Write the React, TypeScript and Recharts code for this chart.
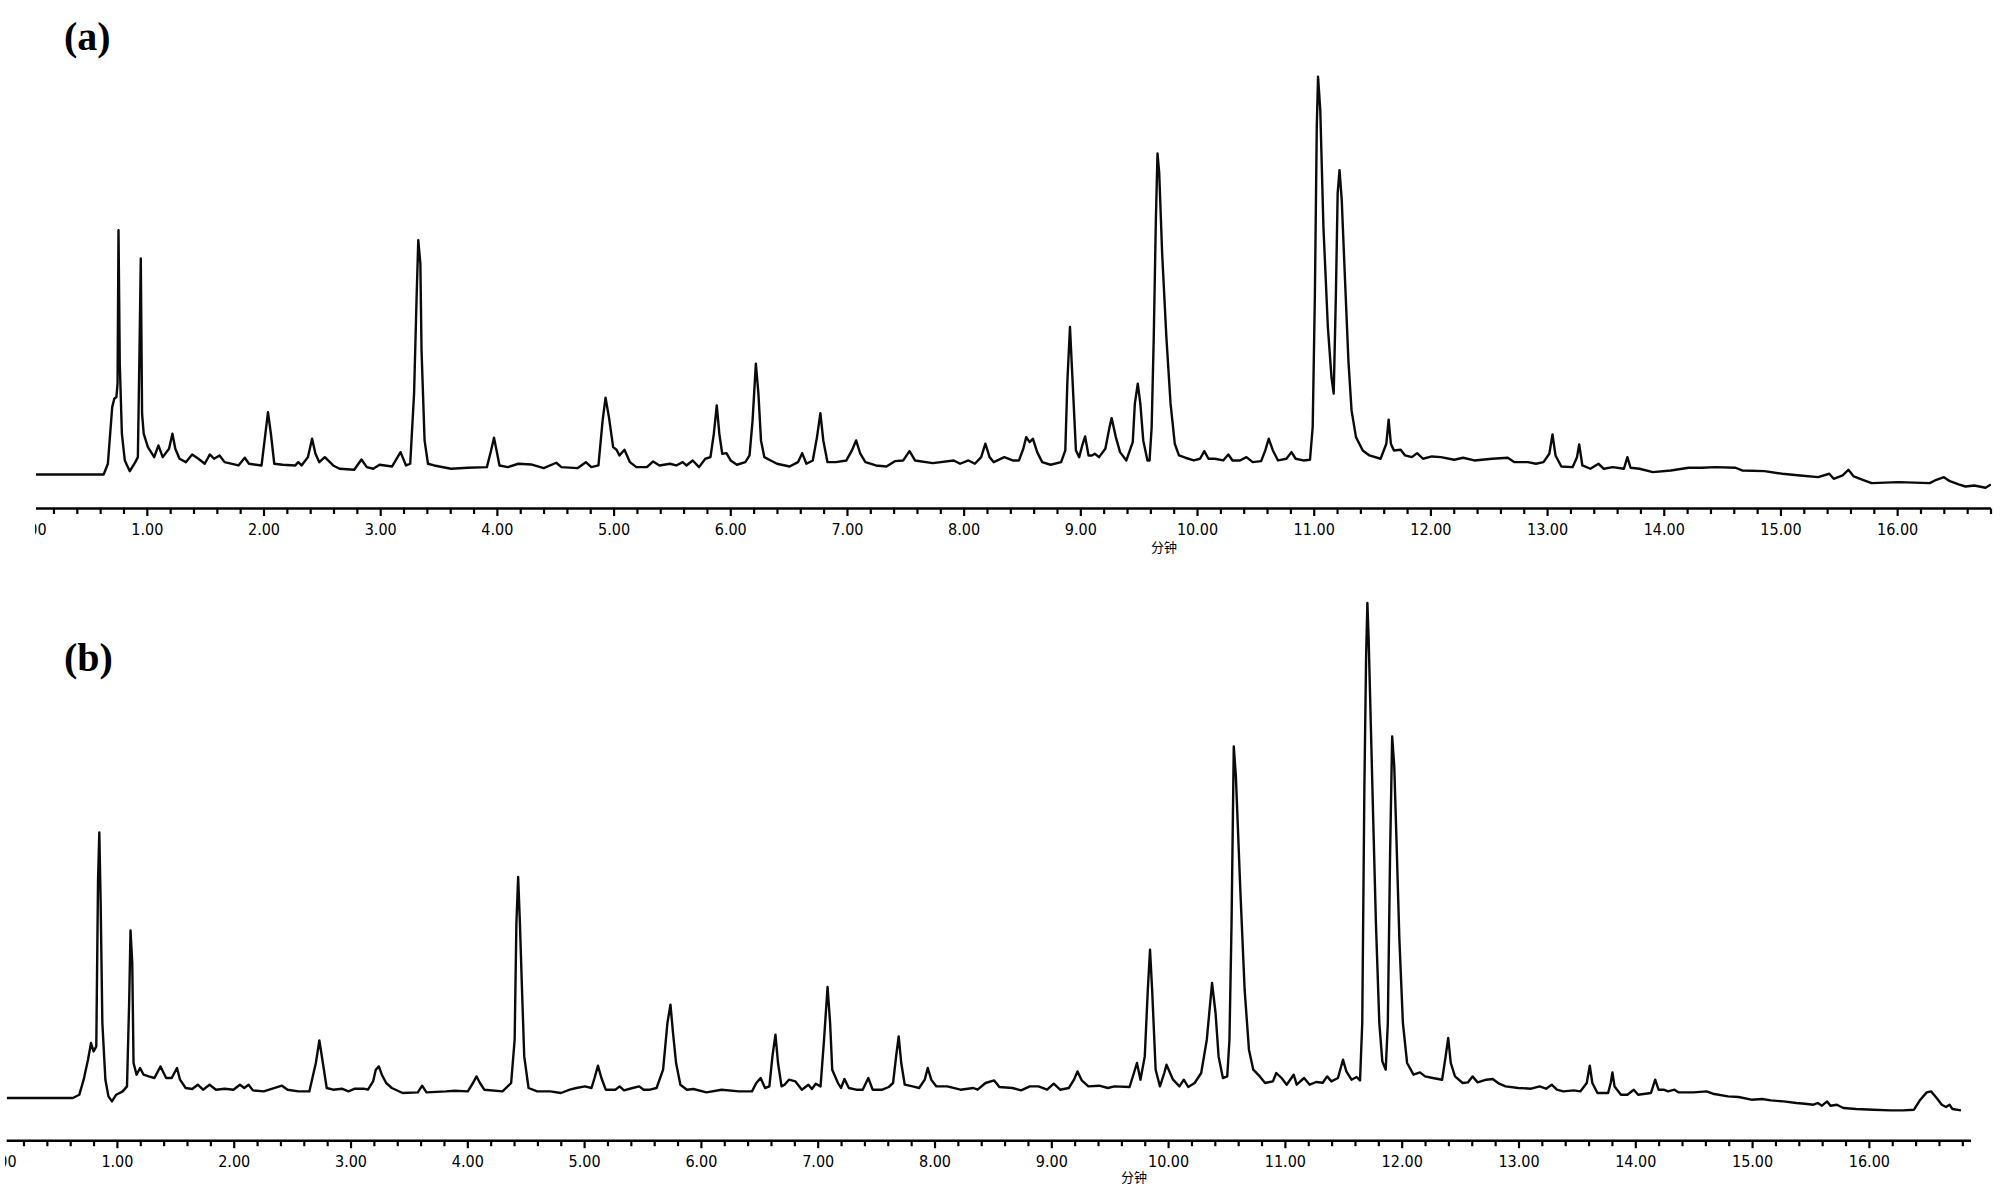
import React from "react";
import { LineChart, Line, XAxis, YAxis } from "recharts";

// retention time axis (minutes)
const minuteLabels = [
  "0.00", "1.00", "2.00", "3.00", "4.00", "5.00", "6.00", "7.00", "8.00",
  "9.00", "10.00", "11.00", "12.00", "13.00", "14.00", "15.00", "16.00",
];
const minorOffsets = [0.2, 0.4, 0.6, 0.8];
const axisTitle = "分钟";

// chromatogram (a): [time (min), signal]
const traceA: [number, number][] = [
  [0.046, -1], [0.626, -1], [0.662, 9.7], [0.699, 66.3], [0.717, 74.7], [0.735, 76.3], [0.745, 89.7],
  [0.753, 243], [0.764, 109.7], [0.782, 39.7], [0.807, 13], [0.85, 2.3], [0.897, 11.3], [0.919, 16.3],
  [0.933, 123], [0.944, 214.7], [0.955, 59.7], [0.969, 39.7], [1.005, 26.3], [1.059, 16.3], [1.095, 28],
  [1.132, 16.3], [1.186, 24.7], [1.215, 39.7], [1.24, 24.7], [1.276, 14.7], [1.33, 11.3], [1.384, 19],
  [1.438, 14.7], [1.492, 9.7], [1.536, 19], [1.572, 14.7], [1.619, 18], [1.662, 11.3], [1.781, 8],
  [1.835, 15.7], [1.871, 9.7], [1.979, 8], [2.005, 33], [2.034, 61.3], [2.059, 39.7], [2.088, 9.7],
  [2.16, 8.7], [2.268, 8], [2.293, 11.3], [2.322, 8], [2.376, 16.3], [2.412, 34.7], [2.441, 19.7],
  [2.474, 11.3], [2.521, 16.3], [2.593, 8], [2.647, 4.7], [2.773, 3.7], [2.835, 14], [2.881, 6.3],
  [2.936, 4.7], [2.99, 8.7], [3.098, 7], [3.17, 21.3], [3.217, 8], [3.253, 9.7], [3.286, 79.7],
  [3.307, 173], [3.322, 233], [3.34, 209.7], [3.35, 123], [3.376, 33], [3.405, 9.7], [3.459, 8],
  [3.603, 4.7], [3.747, 5.7], [3.91, 6.3], [3.946, 23], [3.971, 35.7], [3.993, 23], [4.018, 8],
  [4.09, 6.3], [4.18, 9.7], [4.289, 9], [4.397, 5.3], [4.505, 10.7], [4.548, 6.3], [4.686, 5.3],
  [4.758, 11.3], [4.805, 6.3], [4.866, 8], [4.902, 53], [4.927, 75.7], [4.956, 56.3], [4.992, 26.3],
  [5.021, 23.7], [5.046, 18], [5.089, 23.7], [5.136, 11.3], [5.191, 6.3], [5.281, 6.3], [5.335, 12],
  [5.389, 8], [5.479, 9.7], [5.533, 8], [5.588, 11.3], [5.62, 8], [5.674, 13], [5.728, 6.3],
  [5.782, 14.7], [5.826, 16.3], [5.855, 39.7], [5.88, 68], [5.902, 39.7], [5.927, 19.7], [5.963, 20.3],
  [5.999, 13], [6.053, 8.7], [6.125, 11.3], [6.161, 18], [6.187, 53], [6.215, 109.7], [6.237, 79.7],
  [6.259, 33], [6.288, 16.3], [6.342, 13], [6.396, 9.7], [6.504, 7], [6.576, 11.3], [6.612, 20.3],
  [6.648, 9.7], [6.703, 13], [6.739, 36.3], [6.768, 60.3], [6.793, 33], [6.829, 11.3], [6.901, 11.3],
  [6.991, 13], [7.038, 23], [7.074, 33], [7.11, 19.7], [7.154, 11.3], [7.244, 8], [7.334, 7],
  [7.406, 12.3], [7.478, 13], [7.532, 22.3], [7.579, 13], [7.731, 10.3], [7.911, 13], [7.965, 9.7],
  [8.037, 13], [8.092, 9.7], [8.146, 16.3], [8.182, 29.7], [8.218, 16.3], [8.254, 11.3], [8.344, 16.3],
  [8.416, 13], [8.47, 13], [8.507, 24.7], [8.532, 36.3], [8.561, 31.3], [8.589, 34.7], [8.626, 21.3],
  [8.669, 11.3], [8.741, 8.7], [8.831, 11.3], [8.867, 23], [8.885, 93], [8.907, 146.3], [8.929, 93],
  [8.958, 23], [8.986, 16.3], [9.012, 28], [9.037, 37], [9.066, 18], [9.095, 18], [9.12, 19.7],
  [9.156, 16.3], [9.21, 24.7], [9.246, 46.3], [9.264, 55.3], [9.3, 36.3], [9.336, 21.3], [9.39, 13],
  [9.445, 31.3], [9.463, 69.7], [9.488, 89.7], [9.51, 69.7], [9.535, 33], [9.571, 13], [9.589, 13],
  [9.607, 46.3], [9.625, 136.3], [9.643, 253], [9.657, 319.7], [9.672, 299.7], [9.697, 219.7],
  [9.733, 136.3], [9.769, 69.7], [9.805, 29.7], [9.841, 18], [9.896, 15.7], [9.968, 13], [10.022, 14.7],
  [10.058, 22.3], [10.094, 14.7], [10.148, 14.7], [10.22, 13], [10.264, 19], [10.3, 13], [10.364, 13],
  [10.419, 16.3], [10.473, 11.3], [10.545, 12.3], [10.581, 23], [10.61, 34.7], [10.646, 23], [10.69, 13],
  [10.762, 14.7], [10.805, 21.3], [10.841, 14.7], [10.906, 13], [10.964, 13.7], [10.987, 46.3],
  [11.006, 179.7], [11.022, 346.3], [11.033, 396.3], [11.052, 363], [11.079, 246.3], [11.117, 146.3],
  [11.148, 96.3], [11.167, 79.7], [11.186, 179.7], [11.201, 279.7], [11.217, 303], [11.236, 273],
  [11.263, 196.3], [11.293, 113], [11.32, 63], [11.358, 36.3], [11.416, 23], [11.473, 18], [11.569, 14.7],
  [11.618, 29.7], [11.638, 53.7], [11.657, 29.7], [11.683, 23], [11.741, 23.7], [11.779, 18],
  [11.837, 16.3], [11.882, 20.3], [11.932, 14.7], [12.009, 17], [12.085, 16.3], [12.2, 13.7],
  [12.276, 15.7], [12.372, 13], [12.525, 14.7], [12.659, 15.7], [12.716, 11.3], [12.831, 11.3],
  [12.9, 9.7], [12.965, 11.3], [13.015, 19.7], [13.042, 39], [13.068, 18], [13.118, 7], [13.214, 6.3],
  [13.252, 16.3], [13.271, 29], [13.298, 8], [13.367, 4.7], [13.436, 9.7], [13.482, 4.7], [13.558, 6.3],
  [13.654, 4.7], [13.684, 16.3], [13.711, 5.7], [13.788, 4.7], [13.902, 1.3], [14.056, 3], [14.209, 5.7],
  [14.323, 5.7], [14.438, 6.3], [14.61, 5.7], [14.668, 3], [14.859, 2.3], [15.012, -0.3], [15.165, -2],
  [15.318, -3.7], [15.414, -0.3], [15.452, -5.3], [15.529, -2], [15.578, 3.7], [15.624, -3],
  [15.701, -6.3], [15.777, -9.7], [16.007, -8.7], [16.275, -9.7], [16.332, -6.3], [16.397, -3.7],
  [16.447, -7.7], [16.523, -11], [16.581, -13], [16.657, -12], [16.753, -14.3], [16.8, -11],
];

// chromatogram (b): [time (min), signal]
const traceB: [number, number][] = [
  [0.052, -0.3], [0.618, -0.3], [0.674, 3], [0.711, 18], [0.748, 38], [0.774, 54.7], [0.796, 46.3],
  [0.819, 51.3], [0.834, 218], [0.845, 265.3], [0.856, 198], [0.871, 74.7], [0.897, 18], [0.923, 1.3],
  [0.953, -3.7], [0.99, 3], [1.045, 6.3], [1.082, 11.3], [1.101, 98], [1.112, 167.3], [1.127, 134.7],
  [1.138, 34.7], [1.164, 23], [1.194, 29.7], [1.224, 23], [1.268, 21.3], [1.317, 19.7], [1.369, 31.3],
  [1.417, 19.7], [1.465, 19.7], [1.51, 29.7], [1.536, 18], [1.584, 9.7], [1.64, 8.7], [1.688, 13],
  [1.733, 8], [1.789, 13], [1.844, 8], [1.919, 9], [1.993, 8], [2.049, 13], [2.086, 9.7], [2.123, 13],
  [2.16, 7.3], [2.253, 6.3], [2.327, 9], [2.409, 12], [2.457, 8], [2.55, 6.3], [2.643, 6.3],
  [2.699, 34.7], [2.729, 57.3], [2.759, 34.7], [2.792, 9.7], [2.847, 8], [2.922, 9], [2.978, 6.3],
  [3.033, 9], [3.108, 9], [3.145, 8], [3.189, 16.3], [3.212, 28], [3.238, 31.3], [3.264, 23],
  [3.301, 14.7], [3.349, 9.7], [3.442, 4.7], [3.572, 5.3], [3.609, 12], [3.646, 5.3], [3.814, 6.3],
  [3.888, 7], [4.0, 6.3], [4.044, 14.7], [4.074, 21.3], [4.104, 14.7], [4.141, 8], [4.297, 6.3],
  [4.371, 14.7], [4.401, 58], [4.416, 174.7], [4.431, 220.7], [4.446, 174.7], [4.464, 108],
  [4.483, 41.3], [4.52, 9.7], [4.594, 6.3], [4.706, 6.3], [4.798, 4.7], [4.873, 8], [4.929, 9.7],
  [5.003, 11.3], [5.059, 9.7], [5.085, 19.7], [5.114, 32], [5.144, 19.7], [5.181, 8], [5.263, 8],
  [5.3, 11.3], [5.337, 7.3], [5.411, 9.7], [5.468, 11.3], [5.505, 8], [5.56, 8], [5.616, 9.7],
  [5.672, 28], [5.709, 74.7], [5.735, 93], [5.757, 64.7], [5.783, 34.7], [5.82, 13], [5.876, 8],
  [5.931, 8.7], [6.043, 5.3], [6.173, 8], [6.322, 6.3], [6.433, 6.3], [6.47, 14.7], [6.507, 19.7],
  [6.545, 9.7], [6.582, 11.3], [6.608, 41.3], [6.634, 63], [6.656, 34.7], [6.686, 11.3], [6.712, 13],
  [6.749, 18], [6.805, 16.3], [6.86, 8], [6.916, 13], [6.946, 8.7], [6.979, 14], [7.02, 11.3],
  [7.05, 58], [7.08, 110.7], [7.102, 74.7], [7.12, 28], [7.169, 14.7], [7.195, 9.7], [7.225, 18.7],
  [7.262, 9.7], [7.325, 8], [7.381, 8], [7.429, 19.7], [7.466, 8], [7.548, 8], [7.604, 10.7],
  [7.641, 14.7], [7.667, 41.3], [7.689, 61.3], [7.711, 34.7], [7.741, 13], [7.808, 11.3], [7.864, 9.7],
  [7.912, 18], [7.938, 29.7], [7.968, 18], [8.012, 11.3], [8.105, 11.3], [8.217, 8], [8.328, 9.7],
  [8.365, 8], [8.432, 14.7], [8.507, 17.3], [8.551, 10.7], [8.663, 9.7], [8.737, 7.3], [8.811, 11.3],
  [8.886, 11.3], [8.96, 8], [9.016, 14], [9.071, 8], [9.146, 9.7], [9.19, 18], [9.22, 26.3],
  [9.257, 17.3], [9.313, 11.3], [9.406, 12], [9.48, 9.7], [9.536, 11.3], [9.666, 10.7], [9.703, 24.7],
  [9.729, 34.7], [9.759, 18], [9.796, 41.3], [9.822, 108], [9.841, 148], [9.859, 108], [9.889, 28],
  [9.926, 11.3], [9.963, 24.7], [9.982, 33], [10.038, 18], [10.093, 11.3], [10.13, 18], [10.168, 10.7],
  [10.223, 14.7], [10.279, 24.7], [10.327, 58], [10.372, 114.7], [10.402, 84.7], [10.428, 41.3],
  [10.465, 19.7], [10.502, 21.3], [10.521, 58], [10.539, 174.7], [10.558, 351.3], [10.576, 321.3],
  [10.614, 208], [10.651, 108], [10.688, 48], [10.725, 28], [10.781, 21.3], [10.826, 14.7],
  [10.893, 16.3], [10.922, 24.7], [10.967, 19.7], [11.011, 13], [11.071, 23], [11.097, 13],
  [11.16, 19.7], [11.208, 13], [11.264, 15.7], [11.32, 15], [11.357, 21.3], [11.394, 16.3],
  [11.45, 19.7], [11.493, 38], [11.522, 26.3], [11.566, 18], [11.61, 20.7], [11.639, 17.3],
  [11.658, 74.7], [11.676, 308], [11.691, 441.3], [11.702, 494.7], [11.713, 458], [11.731, 374.7],
  [11.749, 291.3], [11.775, 174.7], [11.804, 74.7], [11.83, 36.3], [11.859, 28], [11.877, 74.7],
  [11.896, 241.3], [11.914, 361.3], [11.932, 331.3], [11.951, 258], [11.976, 158], [12.006, 74.7],
  [12.042, 34.7], [12.097, 23], [12.152, 25.3], [12.196, 21.3], [12.262, 19.7], [12.342, 18],
  [12.372, 41.3], [12.394, 59.7], [12.416, 34.7], [12.452, 21.3], [12.518, 14.7], [12.562, 15.3],
  [12.602, 21.3], [12.646, 15.3], [12.72, 18], [12.775, 18.7], [12.83, 14], [12.885, 11.3],
  [12.994, 9.7], [13.104, 9], [13.177, 11.3], [13.232, 9], [13.28, 13], [13.324, 8], [13.379, 6.3],
  [13.47, 7.3], [13.525, 6.3], [13.58, 14.7], [13.606, 32], [13.628, 14.7], [13.672, 4.7],
  [13.763, 4.7], [13.785, 14.7], [13.8, 25.3], [13.818, 11.3], [13.873, 3], [13.928, 3], [13.983, 8],
  [14.02, 3], [14.13, 4.7], [14.166, 18], [14.195, 8], [14.239, 8], [14.276, 6.3], [14.331, 8],
  [14.367, 5.3], [14.496, 5.3], [14.606, 6.3], [14.66, 4], [14.789, 1.3], [14.88, 0.7], [14.99, -2],
  [15.082, -1.3], [15.155, -2.7], [15.265, -3.7], [15.375, -5.3], [15.448, -6], [15.521, -7],
  [15.558, -5.3], [15.594, -8], [15.638, -3.7], [15.667, -8], [15.722, -7], [15.777, -10.3],
  [15.887, -11.3], [16.034, -12], [16.18, -12.7], [16.29, -12.7], [16.382, -12], [16.436, -2],
  [16.491, 5.3], [16.528, 6.3], [16.576, -0.3], [16.62, -7], [16.656, -9.3], [16.686, -7],
  [16.711, -11.3], [16.784, -12.7],
];

const axisTicks = minuteLabels.flatMap((_, m) => [
  m,
  ...minorOffsets.map((o) => Math.round((m + o) * 10) / 10),
]);

const labelFont = "'Liberation Sans Narrow', 'Arial Narrow', 'DejaVu Sans Condensed', Arial, sans-serif";

function MinuteTick(props: any) {
  const { x, y, payload, clipId } = props;
  const value = payload.value as number;
  const whole = Math.round(value);
  const major = Math.abs(value - whole) < 1e-6;
  return (
    <g clipPath={`url(#${clipId})`}>
      <line x1={x} y1={y} x2={x} y2={y + (major ? 7.5 : 5.5)} stroke="#000" strokeWidth={2.2} />
      {major && (
        <text x={x} y={y + 26.5} textAnchor="middle" fontFamily={labelFont} fontSize={16} fill="#000">
          {minuteLabels[whole]}
        </text>
      )}
    </g>
  );
}

interface PanelProps {
  trace: [number, number][];
  top: number;
  height: number;
  margin: { top: number; right: number; bottom: number; left: number };
  xDomain: [number, number];
  yDomain: [number, number];
  axisHeight: number;
  clipId: string;
}

function Panel({ trace, top, height, margin, xDomain, yDomain, axisHeight, clipId }: PanelProps) {
  const data = trace.map(([t, v]) => ({ t, v }));
  return (
    <div style={{ position: "absolute", left: 0, top, width: 2000, height }}>
      <LineChart width={2000} height={height} data={data} margin={margin}>
        <XAxis
          dataKey="t"
          type="number"
          domain={xDomain}
          allowDataOverflow
          ticks={axisTicks}
          interval={0}
          tickLine={false}
          tickSize={0}
          tickMargin={0}
          height={axisHeight}
          axisLine={{ stroke: "#000", strokeWidth: 2.5 }}
          tick={(p: any) => <MinuteTick {...p} clipId={clipId} />}
        />
        <YAxis hide type="number" domain={yDomain} allowDataOverflow />
        <Line
          type="linear"
          dataKey="v"
          stroke="#0a0a0a"
          strokeWidth={2.4}
          strokeLinejoin="round"
          dot={false}
          activeDot={false}
          isAnimationActive={false}
        />
      </LineChart>
    </div>
  );
}

export default function App() {
  return (
    <div
      style={{
        position: "absolute",
        left: 0,
        top: 0,
        width: 2000,
        height: 1193,
        background: "#fff",
        overflow: "hidden",
      }}
    >
      <svg width={0} height={0} style={{ position: "absolute" }}>
        <defs>
          <clipPath id="clipA" clipPathUnits="userSpaceOnUse">
            <rect x={35} y={0} width={1965} height={600} />
          </clipPath>
          <clipPath id="clipB" clipPathUnits="userSpaceOnUse">
            <rect x={5} y={0} width={1995} height={640} />
          </clipPath>
        </defs>
      </svg>

      <Panel
        trace={traceA}
        top={0}
        height={600}
        margin={{ top: 53, right: 9, bottom: 31.5, left: 36 }}
        xDomain={[0.046, 16.8]}
        yDomain={[-35, 420]}
        axisHeight={60}
        clipId="clipA"
      />
      <Panel
        trace={traceB}
        top={560}
        height={633}
        margin={{ top: 37.7, right: 29, bottom: 12.3, left: 6.7 }}
        xDomain={[0.052, 16.87]}
        yDomain={[-43, 500]}
        axisHeight={40}
        clipId="clipB"
      />

      <svg
        width={2000}
        height={1193}
        style={{ position: "absolute", left: 0, top: 0, pointerEvents: "none" }}
      >
        <text x={64} y={50} fontFamily="'Liberation Serif', 'Times New Roman', serif" fontWeight="bold" fontSize={40} fill="#000">
          (a)
        </text>
        <text x={64} y={671} fontFamily="'Liberation Serif', 'Times New Roman', serif" fontWeight="bold" fontSize={40} fill="#000">
          (b)
        </text>
        <text x={1164} y={552} textAnchor="middle" fontFamily="'Noto Sans CJK SC', sans-serif" fontSize={13} fill="#000">
          {axisTitle}
        </text>
        <text x={1134} y={1182} textAnchor="middle" fontFamily="'Noto Sans CJK SC', sans-serif" fontSize={13} fill="#000">
          {axisTitle}
        </text>
      </svg>
    </div>
  );
}
